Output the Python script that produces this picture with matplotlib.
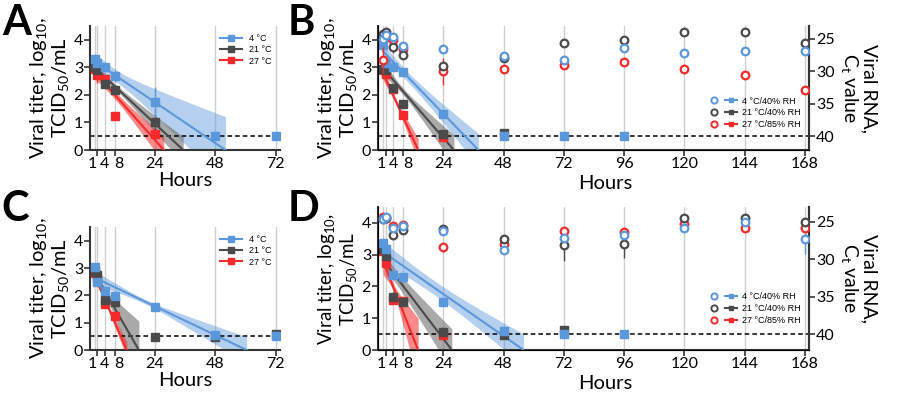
import numpy as np
import matplotlib
matplotlib.use("Agg")
import matplotlib.pyplot as plt
from matplotlib.legend_handler import HandlerTuple
from matplotlib.lines import Line2D

nan = np.nan

# Time points (hours)
times_short = [0, 1, 4, 8, 24, 48, 72]
times_long = [0, 1, 4, 8, 24, 48, 72, 96, 120, 144, 168]

labels_short = ["4 °C", "21 °C", "27 °C"]
labels_long = ["4 °C/40% RH", "21 °C/40% RH", "27 °C/85% RH"]

# Panel A: titers (log10 TCID50/mL), order 4, 21, 27 °C
a_titer_4 = [3.30, 3.15, 3.00, 2.68, 1.75, 0.50, 0.50]
a_titer_21 = [3.00, 2.89, 2.40, 2.19, 1.00, nan, nan]
a_titer_27 = [2.95, 2.72, 2.56, 1.25, 0.58, nan, nan]
a_err_4 = [0.10, 0.10, 0.05, 0.20, 0.55, 0, 0]
a_err_21 = [0.05, 0.10, 0.10, 0.05, 0.30, 0, 0]
a_err_27 = [0.10, 0.30, 0.05, 0, 0.10, 0, 0]

# Panel C
c_titer_4 = [3.05, 2.48, 2.17, 1.98, 1.58, 0.55, 0.50]
c_titer_21 = [2.88, 2.73, 1.83, 1.75, 0.48, 0.48, 0.60]
c_titer_27 = [2.80, 2.65, 1.68, 1.24, nan, nan, nan]
c_err_4 = [0.05, 0.05, 0.10, 0.10, 0.05, 0.05, 0]
c_err_21 = [0.05, 0.05, 0.10, 0.05, 0, 0, 0]
c_err_27 = [0.05, 0.05, 0.05, 0.05, 0, 0, 0]

# Panel B: titers + Ct values
b_titer_4 = [3.82, 3.16, 3.00, 2.82, 1.32, 0.50, 0.50, 0.50, nan, nan, nan]
b_titer_21 = [2.93, 2.90, 2.26, 1.67, 0.57, 0.60, nan, nan, nan, nan, nan]
b_titer_27 = [2.90, 2.77, 2.22, 1.26, 0.48, nan, nan, nan, nan, nan, nan]
b_err_4 = [0.10, 0.10, 0.05, 0.10, 0.05, 0, 0, 0, 0, 0, 0]
b_err_21 = [0.05, 0.10, 0.15, 0.15, 0.05, 0, 0, 0, 0, 0, 0]
b_err_27 = [0.10, 0.10, 0.10, 0.10, 0.05, 0, 0, 0, 0, 0, 0]
b_ct_4 = [25.0, 24.45, 24.7, 26.1, 26.5, 27.6, 28.3, 26.45, 27.2, 26.8, 26.8]
b_ct_21 = [24.2, 23.9, 26.2, 27.5, 29.2, 27.9, 25.6, 25.1, 24.0, 24.0, 25.6]
b_ct_27 = [28.3, 24.7, 25.1, 26.6, 30.0, 29.7, 29.0, 28.5, 29.65, 30.6, 32.9]
b_cterr_4 = [0.4, 0.3, 0.3, 0.5, 0.4, 0.4, 0.3, 0.4, 0.5, 0.5, 0.4]
b_cterr_21 = [0.3, 0.3, 1.0, 0.6, 0.4, 0.3, 0.3, 0.3, 0.3, 0.3, 0.3]
b_cterr_27 = [2.0, 0.5, 0.5, 0.5, 2.1, 0.6, 0.4, 0.6, 0.6, 0.4, 0.6]

# Panel D
d_titer_4 = [3.37, 3.18, 2.37, 2.28, 1.50, 0.60, 0.50, 0.50, nan, nan, nan]
d_titer_21 = [3.16, 2.95, 1.68, 1.50, 0.58, 0.47, 0.62, nan, nan, nan, nan]
d_titer_27 = [3.10, 2.74, 1.58, 1.53, 0.47, nan, nan, nan, nan, nan, nan]
d_err_4 = [0.15, 0.10, 0.10, 0.10, 0.10, 0.10, 0, 0, 0, 0, 0]
d_err_21 = [0.10, 0.10, 0.15, 0.05, 0.05, 0, 0, 0, 0, 0, 0]
d_err_27 = [0.10, 0.10, 0.10, 0.05, 0.05, 0, 0, 0, 0, 0, 0]
d_ct_4 = [24.65, 24.3, 25.8, 25.5, 26.2, 28.7, 27.1, 26.7, 25.8, 25.0, 27.3]
d_ct_21 = [24.6, 24.45, 26.7, 26.1, 25.9, 27.35, 28.1, 28.0, 24.5, 24.5, 25.0]
d_ct_27 = [24.4, 24.45, 25.5, 25.4, 28.4, 28.0, 26.2, 26.4, 25.3, 25.85, 25.8]
d_cterr_4 = [0.3, 0.3, 0.4, 0.3, 0.4, 0.6, 0.4, 0.4, 0.3, 0.3, 2.0]
d_cterr_21 = [0.3, 0.3, 0.3, 0.3, 0.3, 0.4, 2.1, 1.8, 0.3, 0.3, 0.3]
d_cterr_27 = [0.3, 0.3, 0.3, 0.3, 0.6, 0.4, 0.3, 0.3, 0.3, 0.3, 0.3]

# Regression fits: value at t=0, time of reaching 0,
# and confidence band shape (min half-width, its centre, growth per hour)
a_b0, a_tend = [3.22, 3.00, 2.83], [52.0, 35.2, 27.5]
a_hmin, a_tc, a_g = [0.22, 0.10, 0.15], [8, 8, 8], [0.027, 0.0174, 0.0237]
b_b0, b_tend = [3.58, 2.97, 2.79], [38.0, 28.2, 14.0]
b_hmin, b_tc, b_g = [0.18, 0.12, 0.10], [10, 8, 5], [0.0204, 0.0265, 0.045]
c_b0, c_tend = [2.65, 2.80, 2.72], [60.4, 17.6, 12.8]
c_hmin, c_tc, c_g = [0.08, 0.10, 0.08], [20, 4, 4], [0.0118, 0.0775, 0.033]
d_b0, d_tend = [3.08, 2.84, 2.79], [56.0, 27.4, 14.0]
d_hmin, d_tc, d_g = [0.22, 0.20, 0.12], [20, 2, 4], [0.0125, 0.025, 0.099]

colors = ["#5B97DB", "#4A4A4A", "#F42A2A"]
band_colors = ["#5B97DB", "#707070", "#F42A2A"]
band_alpha = [0.45, 0.6, 0.55]
spine_col = "#333333"

plt.rcParams["font.family"] = ["Lato", "DejaVu Sans"]
plt.rcParams["mathtext.default"] = "regular"

fig = plt.figure(figsize=(9, 4), dpi=100)


def style_axis(ax, times, xlim, xticks, label_size):
    ax.set_xlim(*xlim)
    ax.set_ylim(0, 4.5)
    for t in times:
        ax.axvline(t, color="#cfcfcf", lw=1, zorder=0)
    ax.axhline(0.5, color="black", lw=1.1, ls=(0, (3, 2)), zorder=2)
    ax.set_xticks(xticks, labels=[str(x) for x in xticks])
    # keep the crowded 1 / 4 / 8 labels readable, as "148" in the original
    ticklabels = ax.get_xticklabels()
    ticklabels[0].set_ha("right")
    ticklabels[2].set_ha("left")
    ax.set_yticks([0, 1, 2, 3, 4])
    ax.spines["top"].set_visible(False)
    for s in ["left", "bottom", "right"]:
        ax.spines[s].set_color(spine_col)
        ax.spines[s].set_linewidth(1.5)
    ax.tick_params(direction="out", length=4, width=1.2, color=spine_col,
                   labelsize=11.5, pad=1)
    ax.set_ylabel("Viral titer, log$_{10}$,\nTCID$_{50}$/mL", fontsize=label_size,
                  linespacing=1.05, labelpad=2)
    ax.set_xlabel("Hours", fontsize=14.5, labelpad=1)


def draw_fits(ax, b0, tend, hmin, tc, g):
    for i in range(3):
        t = np.linspace(0, tend[i], 200)
        line = b0[i] * (1 - t / tend[i])
        hw = np.sqrt(hmin[i] ** 2 + (g[i] * (t - tc[i])) ** 2)
        ax.fill_between(t, line - hw, line + hw, color=band_colors[i],
                        alpha=band_alpha[i], lw=0, zorder=1)
    for i in range(3):
        t = np.linspace(0, tend[i], 200)
        ax.plot(t, b0[i] * (1 - t / tend[i]), color=colors[i], lw=1.5, zorder=3)


def draw_squares(ax, times, titers, errs):
    for i in [2, 1, 0]:
        ax.errorbar(times, titers[i], yerr=errs[i], fmt="s", ms=5.5,
                    color=colors[i], ecolor=colors[i], elinewidth=1,
                    capsize=0, zorder=4)


def draw_circles(ax2, times, cts, errs):
    for i in [2, 1, 0]:
        ax2.errorbar(times, cts[i], yerr=errs[i], fmt="o", ms=5.5,
                     mfc="white", mec=colors[i], mew=1.6, color=colors[i],
                     ecolor=colors[i], elinewidth=1, capsize=0, zorder=5)


def short_panel(rect, titers, errs, b0, tend, hmin, tc, g):
    ax = fig.add_axes(rect)
    style_axis(ax, times_short, (-1.8, 73.6), [1, 4, 8, 24, 48, 72], 14.5)
    ax.spines["right"].set_visible(False)
    draw_fits(ax, b0, tend, hmin, tc, g)
    draw_squares(ax, times_short, titers, errs)
    handles = [Line2D([], [], color=colors[i], marker="s", ms=4, lw=1.5)
               for i in range(3)]
    ax.legend(handles, labels_short, loc="upper right",
              bbox_to_anchor=(1.0, 1.0), frameon=False, handlelength=2.4,
              labelspacing=0.25, prop={"family": "Liberation Sans", "size": 6.5})
    return ax


def long_panel(rect, titers, errs, cts, cterrs, b0, tend, hmin, tc, g, leg_y,
               label_y, label_size):
    ax = fig.add_axes(rect)
    style_axis(ax, times_long, (-2.0, 169.7),
               [1, 4, 8, 24, 48, 72, 96, 120, 144, 168], label_size)
    ax.xaxis.set_label_coords(0.527, label_y)
    draw_fits(ax, b0, tend, hmin, tc, g)
    draw_squares(ax, times_long, titers, errs)
    ax2 = ax.twinx()
    ax2.set_ylim(42.1, 23.0)
    ax2.set_yticks([25, 30, 35, 40])
    ax2.spines["top"].set_visible(False)
    ax2.spines["right"].set_color(spine_col)
    ax2.spines["right"].set_linewidth(1.5)
    ax2.tick_params(direction="out", length=4, width=1.2, color=spine_col,
                    labelsize=11.5, pad=1)
    ax2.set_ylabel("Viral RNA,\nC$_t$ value", fontsize=14, rotation=270,
                   va="bottom", linespacing=1.05, labelpad=3)
    draw_circles(ax2, times_long, cts, cterrs)
    handles = []
    for i in range(3):
        circ = Line2D([], [], ls="none", marker="o", ms=4.5, mfc="white",
                      mec=colors[i], mew=1.4)
        sq = Line2D([], [], color=colors[i], marker="s", ms=3.5, lw=1.5)
        handles.append((circ, sq))
    ax2.legend(handles, labels_long, loc="center right",
               bbox_to_anchor=(1.0, leg_y), frameon=False, handlelength=3.2,
               labelspacing=0.3, handletextpad=0.6,
               handler_map={tuple: HandlerTuple(ndivide=None, pad=0.6)},
               prop={"family": "Liberation Sans", "size": 6.5})
    return ax


short_panel([0.1, 0.625, 0.211, 0.31],
            [a_titer_4, a_titer_21, a_titer_27], [a_err_4, a_err_21, a_err_27],
            a_b0, a_tend, a_hmin, a_tc, a_g)
long_panel([0.42, 0.625, 0.479, 0.31],
           [b_titer_4, b_titer_21, b_titer_27], [b_err_4, b_err_21, b_err_27],
           [b_ct_4, b_ct_21, b_ct_27], [b_cterr_4, b_cterr_21, b_cterr_27],
           b_b0, b_tend, b_hmin, b_tc, b_g, 0.3, -0.2, 14.5)
short_panel([0.1, 0.125, 0.211, 0.3075],
            [c_titer_4, c_titer_21, c_titer_27], [c_err_4, c_err_21, c_err_27],
            c_b0, c_tend, c_hmin, c_tc, c_g)
long_panel([0.42, 0.125, 0.479, 0.358],
           [d_titer_4, d_titer_21, d_titer_27], [d_err_4, d_err_21, d_err_27],
           [d_ct_4, d_ct_21, d_ct_27], [d_cterr_4, d_cterr_21, d_cterr_27],
           d_b0, d_tend, d_hmin, d_tc, d_g, 0.29, -0.175, 13.5)

for x, y, letter in [(0.002, 0.99, "A"), (0.32, 0.99, "B"),
                     (0.002, 0.525, "C"), (0.32, 0.525, "D")]:
    fig.text(x, y, letter, fontsize=30, fontweight="bold", va="top", ha="left")

fig.savefig("out.png", dpi=100)
